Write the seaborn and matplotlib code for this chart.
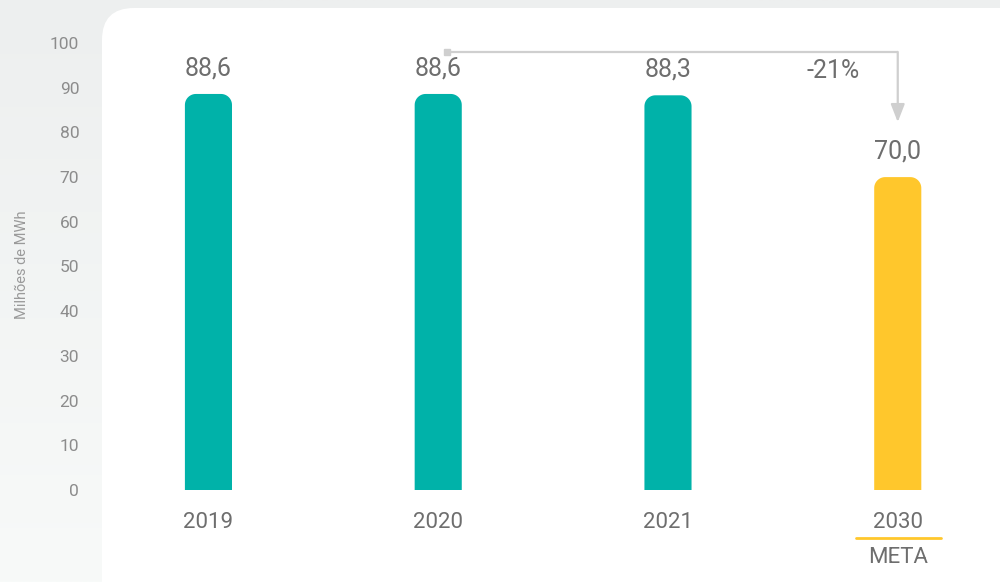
import numpy as np
import matplotlib
matplotlib.use("Agg")
import matplotlib.pyplot as plt
from matplotlib.patches import FancyBboxPatch, Polygon
import seaborn as sns

# --- data -------------------------------------------------------------
years = ["2019", "2020", "2021", "2030"]
values = [88.6, 88.6, 88.3, 70.0]
value_labels = ["88,6", "88,6", "88,3", "70,0"]
y_ticks = [0, 10, 20, 30, 40, 50, 60, 70, 80, 90, 100]
y_title = "Milhões de MWh"
change_label = "-21%"
target_label = "META"

# --- style ------------------------------------------------------------
TEAL = "#00B2A9"
YELLOW = "#FFC72C"
TEXT = "#6E6E6E"
TICK = "#8C8C8C"
ARROW = "#CFCFCF"
bar_colors = [TEAL, TEAL, TEAL, YELLOW]

sns.set_theme(style="white")
plt.rcParams["font.family"] = ["Roboto", "DejaVu Sans"]

W, H, DPI = 1000, 582, 100
fig = plt.figure(figsize=(W / DPI, H / DPI), dpi=DPI)

# background layer in pixel units
bg = fig.add_axes([0, 0, 1, 1], zorder=0)
bg.axis("off")
grad = np.linspace(0, 1, 256).reshape(-1, 1)
top_c = np.array([237, 239, 239]) / 255
bot_c = np.array([248, 250, 249]) / 255
img = top_c + (bot_c - top_c) * grad[..., None]
bg.imshow(np.repeat(img, 2, axis=1), extent=(0, W, H, 0), aspect="auto")
bg.add_patch(FancyBboxPatch((102, 8), W + 60 - 102, H + 60,
                            boxstyle="round,pad=0,rounding_size=32",
                            fc="white", ec="none"))
bg.set_xlim(0, W)
bg.set_ylim(H, 0)

# main chart
ax_left, ax_right = 100, 1000
ax_top, ax_bottom = 43, 490
ax = fig.add_axes([ax_left / W, (H - ax_bottom) / H,
                   (ax_right - ax_left) / W, (ax_bottom - ax_top) / H], zorder=1)
ax.set_facecolor("none")

sns.barplot(x=years, y=values, hue=years, palette=bar_colors, legend=False,
            width=0.205, saturation=1, ax=ax)

x_lo, x_hi = -0.472, 3.445
ax.set_xlim(x_lo, x_hi)
ax.set_ylim(0, 100)
for s in ax.spines.values():
    s.set_visible(False)

# replace each bar by the same bar with rounded top corners
px_per_x = (ax_right - ax_left) / (x_hi - x_lo)
px_per_y = (ax_bottom - ax_top) / 100.0
radius_px = 11
rx = radius_px / px_per_x
ry = radius_px / px_per_y
theta = np.linspace(0, np.pi / 2, 16)
for patch, col in zip(list(ax.patches), bar_colors):
    x0, w, h = patch.get_x(), patch.get_width(), patch.get_height()
    patch.set_visible(False)
    x1 = x0 + w
    right_arc = np.column_stack([x1 - rx + rx * np.cos(theta),
                                 h - ry + ry * np.sin(theta)])
    left_arc = np.column_stack([x0 + rx - rx * np.cos(theta[::-1]),
                                h - ry + ry * np.sin(theta[::-1])])
    pts = np.vstack([[x0, 0], [x1, 0], right_arc, left_arc])
    ax.add_patch(Polygon(pts, closed=True, fc=col, ec="none"))

# value labels
for i, (v, lab) in enumerate(zip(values, value_labels)):
    ax.annotate(lab, (i, v), xytext=(0, 10), textcoords="offset points",
                ha="center", va="bottom", fontsize=18, color=TEXT)

# axes ticks
ax.set_yticks(y_ticks)
ax.set_yticklabels([str(t) for t in y_ticks], fontsize=12.5, color=TICK)
ax.tick_params(axis="y", length=0, pad=15)
ax.tick_params(axis="x", length=0, pad=16, labelsize=16, labelcolor=TEXT)
ax.set_xlabel("")
ax.set_ylabel("")
fig.text(22 / W, 1 - 265 / H, y_title, rotation=90, ha="center", va="center",
         fontsize=10.5, color="#9A9A9A")

# reduction arrow from 2020 to the 2030 target
y_line = 98.0
y_tip = 82.3
x_start = 1.04
ax.plot([x_start, 3], [y_line, y_line], color=ARROW, lw=1.6, clip_on=False,
        solid_capstyle="butt")
ax.plot([x_start], [y_line], marker="s", ms=5, color=ARROW, clip_on=False)
ax.annotate("", xy=(3, y_tip), xytext=(3, y_line),
            arrowprops=dict(arrowstyle="-|>,head_length=0.9,head_width=0.35",
                            color=ARROW, lw=1.6, shrinkA=0, shrinkB=0))
ax.text(2.72, 93.7, change_label, ha="center", va="center", fontsize=18,
        color=TEXT)

# target marker under the 2030 label
ax.plot([2.82, 3.19], [-0.107, -0.107], color=YELLOW, lw=2,
        transform=ax.get_xaxis_transform(), clip_on=False)
ax.text(3.0, -0.152, target_label, ha="center", va="center", fontsize=16,
        color=TEXT, transform=ax.get_xaxis_transform())

fig.savefig("out.png", dpi=DPI)
